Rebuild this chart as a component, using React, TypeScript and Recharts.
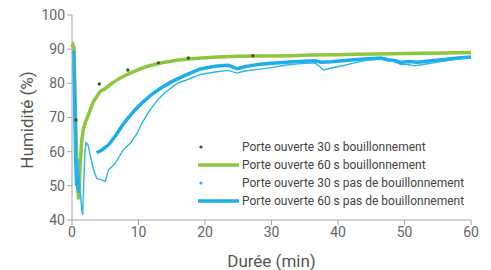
import { LineChart, Line, XAxis, YAxis, Legend } from 'recharts';

// time (min) / humidity (%) for each series
const green60Time = [0, 0.15, 0.3, 0.5, 0.7, 0.85, 1.0, 1.2, 1.45, 1.7, 2.0, 2.5, 3.2, 4.2, 5, 6, 7, 8, 9, 10, 11, 12, 13, 14, 15, 16, 18, 20, 22, 25, 28, 30, 33, 36, 40, 43, 46, 50, 53, 56, 60];
const green60Hum = [90.5, 91.2, 90.5, 72, 58, 50, 46, 55, 63, 66.5, 68.5, 71, 74.5, 77.5, 78.5, 80, 81.3, 82.3, 83.2, 84, 84.8, 85.3, 85.8, 86.2, 86.5, 86.8, 87.2, 87.5, 87.7, 87.9, 88, 88, 88.1, 88.3, 88.4, 88.5, 88.6, 88.7, 88.8, 88.9, 89];

const green30Time = [0.6, 4.1, 8.4, 13, 17.5, 27.2];
const green30Hum = [69.3, 79.8, 83.9, 86, 87.4, 88.1];

const blue30Time = [0, 0.2, 0.35, 0.5, 0.7, 0.9, 1.1, 1.3, 1.5, 1.6, 1.75, 1.95, 2.1, 2.4, 2.8, 3.2, 3.7, 4.3, 5, 5.5, 6.5, 7.7, 8.8, 9.8, 10.5, 11.5, 12.8, 14, 15.8, 17.5, 19.3, 21.5, 23.5, 24.8, 26, 28, 30, 32, 34, 36.5, 37.2, 37.8, 39, 41, 43, 44.5, 46.5, 47.5, 48.5, 49.5, 50.5, 51.5, 53, 55, 57, 59, 60];
const blue30Hum = [88.5, 88, 70, 60, 52, 58, 50, 47, 42.5, 41.5, 50, 60, 62.7, 62, 58.5, 55, 52.2, 51.8, 51.3, 54.7, 56.6, 60.5, 62.5, 65.4, 68.3, 71.5, 75, 77.3, 80, 81.2, 82.6, 83.3, 83.8, 83, 83.6, 84.1, 84.6, 85.3, 85.7, 86, 85, 83.9, 84.5, 85.3, 86.2, 86.8, 87, 86.7, 86.3, 85.5, 85.5, 85.1, 85.6, 86.2, 86.8, 87.3, 87.5];

// null marks the logger gap
const blue60Time = [0, 0.25, 0.4, 0.55, 0.7, 0.85, 1.0, 2.0, 3.7, 4.5, 5.5, 6.5, 7.5, 8.5, 9.5, 10.5, 12, 13.5, 15, 17, 19.3, 21.5, 23.5, 24.8, 26, 28, 30, 32.3, 34, 36.5, 37.5, 39, 41, 43, 44.5, 46.5, 47.5, 48.5, 49.5, 50.5, 52, 54, 56, 58, 60];
const blue60Hum = [89, 89, 75, 58, 50, 54, 48, null, 59.7, 60.5, 62, 64.5, 67.5, 70, 72.3, 74.2, 76.8, 78.8, 80.5, 82.3, 84.2, 85, 85.3, 84.3, 84.9, 85.5, 85.9, 86.2, 86.4, 86.6, 86.2, 86.3, 86.7, 87, 87.2, 87.4, 86.9, 86.7, 86.1, 86.4, 86.2, 86.6, 87, 87.4, 87.7];

const xTicks = [0, 10, 20, 30, 40, 50, 60];
const yTicks = [40, 50, 60, 70, 80, 90, 100];

const toData = (ts: number[], hs: (number | null)[]) => ts.map((t, i) => ({ t, h: hs[i] }));

const series = [
  { name: 'Porte ouverte 30 s bouillonnement', color: '#3b5a1c', kind: 'dot' },
  { name: 'Porte ouverte 60 s bouillonnement', color: '#8dc63f', kind: 'line' },
  { name: 'Porte ouverte 30 s pas de bouillonnement', color: '#29b6ea', kind: 'dot' },
  { name: 'Porte ouverte 60 s pas de bouillonnement', color: '#1daeea', kind: 'line' },
];

const font = 'Roboto, "DejaVu Sans", sans-serif';

function LegendBox() {
  return (
    <div style={{ fontFamily: font, fontSize: 12, color: '#444' }}>
      {series.map((s) => (
        <div key={s.name} style={{ display: 'flex', alignItems: 'center', height: 18, lineHeight: '18px' }}>
          <svg width={46} height={8}>
            {s.kind === 'line' ? (
              <line x1={2} y1={4} x2={43} y2={4} stroke={s.color} strokeWidth={3.5} />
            ) : (
              <circle cx={5} cy={4} r={1.6} fill={s.color} />
            )}
          </svg>
          <span>{s.name}</span>
        </div>
      ))}
    </div>
  );
}

export default function App() {
  return (
    <div style={{ position: 'absolute', left: 0, top: 0, background: '#fff' }}>
      <LineChart width={491} height={270} margin={{ top: 15, right: 20, left: 0, bottom: 0 }}>
        <XAxis
          type="number"
          dataKey="t"
          domain={[0, 60]}
          ticks={xTicks}
          interval={0}
          height={50}
          stroke="#a6a6a6"
          tickSize={5}
          tick={{ fill: '#666', fontSize: 14, fontFamily: font }}
          label={{ value: 'Durée (min)', position: 'insideBottom', offset: 3, fill: '#555', fontSize: 17, fontFamily: font }}
        />
        <YAxis
          type="number"
          domain={[40, 100]}
          ticks={yTicks}
          interval={0}
          width={72}
          stroke="#a6a6a6"
          tickSize={5}
          tick={{ fill: '#666', fontSize: 14, fontFamily: font }}
          label={{
            content: () => (
              <text x={27} y={120} transform="rotate(-90 27 120)" textAnchor="middle" dominantBaseline="central" fill="#555" fontSize={17} fontFamily={font}>
                Humidité (%)
              </text>
            ),
          }}
        />
        <Legend
          layout="vertical"
          align="center"
          verticalAlign="middle"
          content={() => <LegendBox />}
          wrapperStyle={{ left: 196, top: 138, width: 290 }}
        />
        <Line data={toData(green60Time, green60Hum)} dataKey="h" type="linear" stroke="#8dc63f" strokeWidth={3.5} dot={false} isAnimationActive={false} />
        <Line data={toData(blue60Time, blue60Hum)} dataKey="h" type="linear" stroke="#1daeea" strokeWidth={3.5} dot={false} isAnimationActive={false} />
        <Line data={toData(blue30Time, blue30Hum)} dataKey="h" type="linear" stroke="#29b6ea" strokeWidth={1.4} dot={false} isAnimationActive={false} />
        <Line data={toData(green30Time, green30Hum)} dataKey="h" type="linear" stroke="none" dot={{ r: 1.7, fill: '#3b5a1c', stroke: 'none' }} isAnimationActive={false} />
      </LineChart>
    </div>
  );
}
